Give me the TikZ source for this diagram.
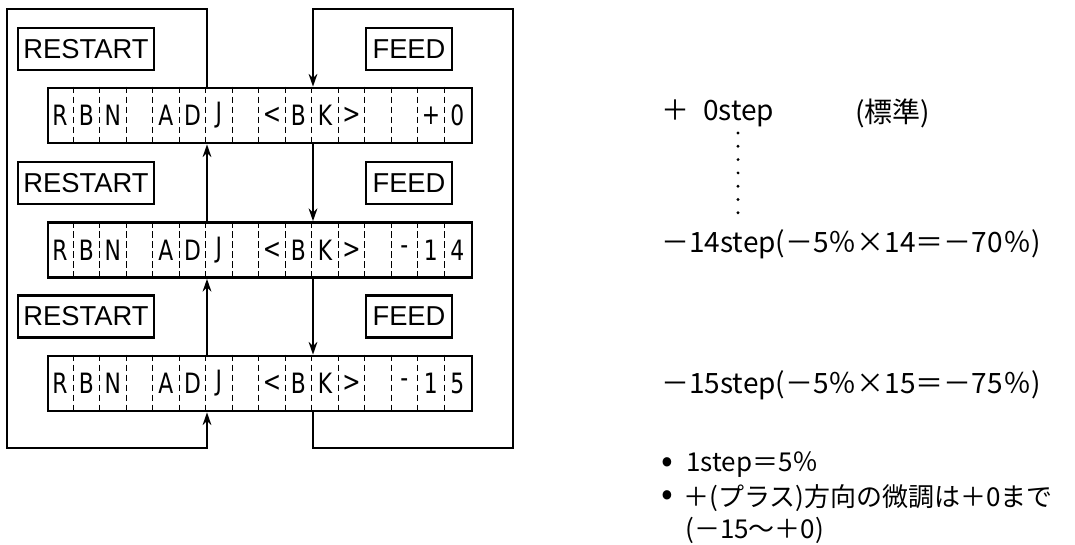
\documentclass[tikz,border=0pt]{standalone}
\usepackage{fontspec}
\setmainfont{Liberation Sans}
\newfontfamily\jpfont{Noto Sans CJK JP}
\newfontfamily\lcdfont[FakeStretch=0.78]{DejaVu Sans}
\usetikzlibrary{
  arrows.meta,  % Stealth 箭头
  calc,         % 坐标计算
  positioning   % 节点相对定位
}
\tikzset{
  panel/.style={
    draw,
    line width=2pt,
    minimum width=318pt,
    minimum height=41.25pt,
    inner sep=0pt
  },
  lcd char/.style={
    font=\lcdfont\fontsize{21}{21}\selectfont,
    inner sep=0pt
  },
  cell sep/.style={
    line width=0.8pt,
    dash pattern=on 5pt off 2.5pt
  },
  keybox/.style={
    draw,
    line width=2pt,
    minimum height=31.5pt,
    inner sep=0pt,
    font=\fontsize{20.5}{20.5}\selectfont
  },
  flow/.style={
    -{Stealth[length=9.5pt,width=6.5pt]},
    line width=1.7pt
  },
  note/.style={
    font=\jpfont\fontsize{21}{22}\selectfont,
    anchor=west,
    inner sep=0pt
  },
  small note/.style={
    note,
    font=\jpfont\fontsize{19.5}{21}\selectfont
  },
  bullet/.style={
    note,
    font=\jpfont\fontsize{26}{26}\selectfont
  }
}

\begin{document}
\begin{tikzpicture}[x=0.75pt, y=-0.75pt]
    \useasboundingbox (0,0) rectangle (1075,545);

    % 1. 三个显示窗
    \node[panel] (d1) at (260,115.5) {};
    \node[panel] (d2) at (260,250) {};
    \node[panel] (d3) at (260,383.5) {};

    % 每格宽 26.5，共 16 格
    \foreach \p/\row in {d1/{R,B,N,{},A,D,J,{},<,B,K,>,{},{},+,0},
                         d2/{R,B,N,{},A,D,J,{},<,B,K,>,{},-,1,4},
                         d3/{R,B,N,{},A,D,J,{},<,B,K,>,{},-,1,5}} {
      \foreach \c [count=\i] in \row
        \node[lcd char] (\p-c\i) at ($(\p.west)+(\i*26.5-13.25,0)$) {\c};
      \foreach \i in {1,...,15}
        \draw[cell sep] ($(\p.north west)+(\i*26.5,0)$) -- ($(\p.south west)+(\i*26.5,0)$);
    }

    % 2. 按键
    \node[keybox, minimum width=102pt] (rs1) at (86,49) {RESTART};
    \node[keybox, minimum width=102pt] (rs2) at (86,183) {RESTART};
    \node[keybox, minimum width=102pt] (rs3) at (86,316.5) {RESTART};
    \node[keybox, minimum width=64.5pt] (fd1) at (409,49) {FEED};
    \node[keybox, minimum width=64.5pt] (fd2) at (409,183) {FEED};
    \node[keybox, minimum width=64.5pt] (fd3) at (409,316.5) {FEED};

    % 3. 连线：左侧 RESTART（向上），右侧 FEED（向下）
    \coordinate (L) at (207,0);
    \coordinate (R) at (313,0);
    \draw[flow] (d2.north -| L) -- (d1.south -| L);
    \draw[flow] (d3.north -| L) -- (d2.south -| L);
    \draw[flow] (d1.south -| R) -- (d2.north -| R);
    \draw[flow] (d2.south -| R) -- (d3.north -| R);
    \draw[flow] (d1.north -| L) -- (207,9) -| (7,448) -| (d3.south -| L);
    \draw[flow] (d3.south -| R) |- (513,448) |- (313,9) -- (d1.north -| R);

    % 4. 右侧说明
    \node[note] (s0) at (661,113) {＋\hspace{0.5em}0step};
    \node[note] (std) at (855,113) {(標準)};
    \foreach \k in {0,...,6}
      \fill (738,133+\k*13.3) circle (1.6);
    \node[note] (s14) at (661,244) {－14step(－5％×14＝－70％)};
    \node[note] (s15) at (661,385) {－15step(－5％×15＝－75％)};
    \node[bullet] (b1) at (661,465) {•};
    \node[small note] (t1) at (686,465) {1step＝5％};
    \node[bullet] (b2) at (661,498) {•};
    \node[small note] (t2) at (683,498) {＋(プラス)方向の微調は＋0まで};
    \node[small note] (t3) at (685,530) {(－15〜＋0)};

  \end{tikzpicture}
\end{document}
